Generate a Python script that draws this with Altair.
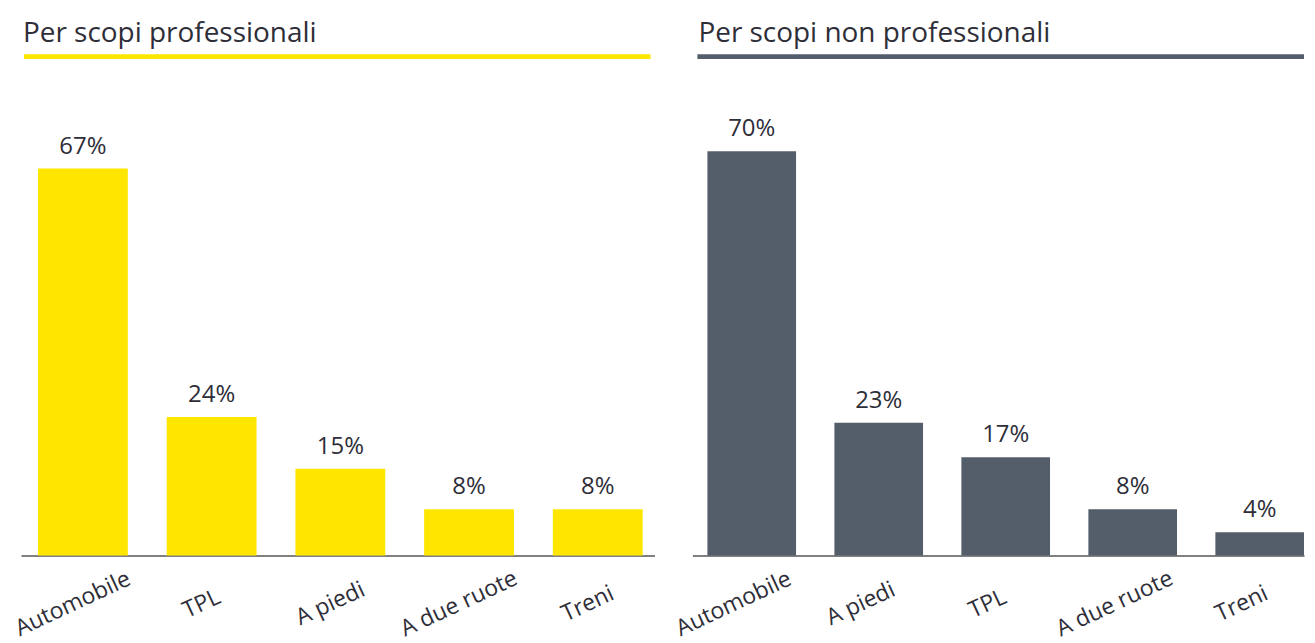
import altair as alt
import pandas as pd

left_title = "Per scopi professionali"
left_cats = ["Automobile", "TPL", "A piedi", "A due ruote", "Treni"]
left_vals = [67, 24, 15, 8, 8]

right_title = "Per scopi non professionali"
right_cats = ["Automobile", "A piedi", "TPL", "A due ruote", "Treni"]
right_vals = [70, 23, 17, 8, 4]

YELLOW = "#FFE600"
GREY = "#545E6B"
TEXT = "#2E2E38"
FONT = "Open Sans"


def panel(title, cats, vals, color, width, pad_outer, align, title_x, line_x1, line_x2, label_offset):
    df = pd.DataFrame({"cat": cats, "val": vals, "lab": [f"{v}%" for v in vals]})
    base = alt.Chart(df)
    x = alt.X(
        "cat:N",
        sort=cats,
        scale=alt.Scale(paddingInner=0.302, paddingOuter=pad_outer, align=align),
        axis=alt.Axis(
            title=None,
            labelAngle=-25,
            labelAlign="center",
            labelBaseline="middle",
            labelPadding=48,
            labelOffset=label_offset,
            ticks=False,
            domainColor="#808080",
            domainWidth=2,
            labelFont=FONT,
            labelFontSize=23,
            labelColor=TEXT,
        ),
    )
    y = alt.Y("val:Q", scale=alt.Scale(domain=[0, 80]), axis=None)
    bars = base.mark_bar(color=color).encode(x=x, y=y)
    labels = base.mark_text(
        dy=-15, baseline="alphabetic", font=FONT, fontSize=24, color=TEXT
    ).encode(x=alt.X("cat:N", sort=cats), y="val:Q", text="lab:N")
    tdf = pd.DataFrame({"t": [title]})
    t = alt.Chart(tdf).mark_text(
        align="left", baseline="alphabetic", font=FONT, fontSize=28, color=TEXT
    ).encode(x=alt.value(title_x), y=alt.value(-52), text="t:N")
    u = alt.Chart(tdf).mark_rule(color=color, strokeWidth=5).encode(
        x=alt.value(line_x1), x2=alt.value(line_x2), y=alt.value(-37)
    )
    return alt.layer(bars, labels, t, u).properties(width=width, height=463)


left = panel(left_title, left_cats, left_vals, YELLOW, 635, 0.112, 0.59, 2, 3, 631, -10)
right = panel(right_title, right_cats, right_vals, GREY, 613, 0.059, 1.0, 6, 5, 613, -18)

chart = (
    alt.hconcat(left, right, spacing=38, bounds="flush")
    .configure_view(stroke=None)
    .properties(padding={"left": 3, "top": 11, "right": 0, "bottom": 0})
)

chart.save("out.html", embed_options={"renderer": "svg", "actions": False})
